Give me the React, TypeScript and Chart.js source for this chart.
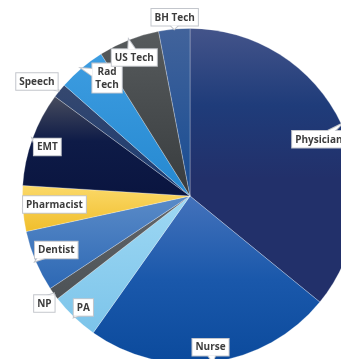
import React, { useEffect, useRef } from "react";
import { Chart, registerables } from "chart.js";

Chart.register(...registerables);

const categories = ["Physician", "Nurse", "PA", "NP", "Dentist", "Pharmacist", "EMT", "Speech", "Rad Tech", "US Tech", "BH Tech"];
const shares = [35.9, 23.9, 4.7, 1.2, 5.9, 4.4, 9.1, 1.4, 4.6, 5.9, 3.0];

// gradient colours per slice (top -> bottom of each slice)
const sliceStops: [number, string][][] = [
  [[0, "#44548a"], [0.28, "#1f3c7a"], [0.55, "#22306a"], [1, "#22306a"]],
  [[0, "#4472bb"], [0.5, "#1a58ab"], [1, "#0b4a9c"]],
  [[0, "#9ed8f3"], [1, "#7cc4ea"]],
  [[0, "#62676b"], [1, "#4d5256"]],
  [[0, "#5a8bc8"], [1, "#2d68b4"]],
  [[0, "#fbd969"], [1, "#f0be2c"]],
  [[0, "#474c5e"], [0.45, "#0e1b47"], [1, "#0a1540"]],
  [[0, "#36486f"], [1, "#1a3b72"]],
  [[0, "#3d9de1"], [1, "#2588d0"]],
  [[0, "#575b5d"], [1, "#383c3e"]],
  [[0, "#42639b"], [1, "#174c92"]],
];

// label placement: fraction of radius and angle tweak (degrees) from slice mid-angle
const labelRadius = [0.84, 0.91, 0.92, 1.08, 0.86, 0.81, 0.9, 1.14, 0.86, 0.89, 1.07];
const labelAngleTweak = [1.6, 0, 0, -0.8, 0.9, 0.75, -1, -2.1, 5.2, -0.5, 0.5];

function sliceGradient(chart: any, index: number) {
  const area = chart.chartArea;
  const stops = sliceStops[index];
  if (!area) return stops[stops.length - 1][1];
  const cx = (area.left + area.right) / 2;
  const cy = (area.top + area.bottom) / 2;
  const r = Math.min(area.right - area.left, area.bottom - area.top) / 2;
  const total = shares.reduce((a, b) => a + b, 0);
  let before = 0;
  for (let i = 0; i < index; i++) before += shares[i];
  const a0 = (before / total) * Math.PI * 2 - Math.PI / 2;
  const a1 = ((before + shares[index]) / total) * Math.PI * 2 - Math.PI / 2;
  const ys = [cy, cy + r * Math.sin(a0), cy + r * Math.sin(a1)];
  for (let k = -2; k <= 4; k++) {
    const t = -Math.PI / 2 + k * Math.PI;
    if (t > a0 && t < a1) ys.push(cy + r * Math.sin(t));
  }
  void cx;
  const top = Math.min(...ys);
  const bottom = Math.max(...ys);
  const g = chart.ctx.createLinearGradient(0, top, 0, bottom);
  stops.forEach(([p, c]) => g.addColorStop(p, c));
  return g;
}

const labelLines = categories.map((c) => (c === "Rad Tech" ? ["Rad", "Tech"] : [c]));

const calloutPlugin = {
  id: "callouts",
  afterDatasetsDraw(chart: any) {
    const ctx = chart.ctx;
    const meta = chart.getDatasetMeta(0);
    ctx.save();
    ctx.font = "bold 10px 'Open Sans', sans-serif";
    ctx.textAlign = "center";
    ctx.textBaseline = "middle";
    const lineH = 12.5;
    meta.data.forEach((arc: any, i: number) => {
      const p = arc.getProps(["startAngle", "endAngle", "x", "y", "outerRadius"], true);
      const mid = (p.startAngle + p.endAngle) / 2;
      const la = mid + (labelAngleTweak[i] * Math.PI) / 180;
      const lx = p.x + Math.cos(la) * p.outerRadius * labelRadius[i];
      const ly = p.y + Math.sin(la) * p.outerRadius * labelRadius[i];
      const lines = labelLines[i];
      const w = Math.max(...lines.map((l: string) => ctx.measureText(l).width)) + 6;
      const h = lines.length * lineH + 4;
      const bx = lx - w / 2;
      const by = ly - h / 2;
      const tx = p.x + Math.cos(mid) * p.outerRadius;
      const ty = p.y + Math.sin(mid) * p.outerRadius;
      let wedge: number[] | null = null;
      const inside = tx > bx && tx < bx + w && ty > by && ty < by + h;
      if (!inside) {
        const dx = tx - lx;
        const dy = ty - ly;
        const sx = dx !== 0 ? (w / 2) / Math.abs(dx) : Infinity;
        const sy = dy !== 0 ? (h / 2) / Math.abs(dy) : Infinity;
        const s = Math.min(sx, sy);
        const ex = lx + dx * s;
        const ey = ly + dy * s;
        if (sx < sy) {
          const y1 = Math.max(by + 1, Math.min(by + h - 1, ey - 3.5));
          const y2 = Math.max(by + 1, Math.min(by + h - 1, ey + 3.5));
          wedge = [ex, y1, ex, y2];
        } else {
          const x1 = Math.max(bx + 1, Math.min(bx + w - 1, ex - 3.5));
          const x2 = Math.max(bx + 1, Math.min(bx + w - 1, ex + 3.5));
          wedge = [x1, ey, x2, ey];
        }
      }
      const wedgePath = () => {
        ctx.beginPath();
        ctx.moveTo(wedge![0], wedge![1]);
        ctx.lineTo(tx, ty);
        ctx.lineTo(wedge![2], wedge![3]);
        ctx.closePath();
      };
      ctx.strokeStyle = "#c3c6cc";
      ctx.lineWidth = 2;
      ctx.beginPath();
      ctx.rect(bx, by, w, h);
      ctx.stroke();
      if (wedge) {
        wedgePath();
        ctx.stroke();
      }
      ctx.fillStyle = "#ffffff";
      ctx.beginPath();
      ctx.rect(bx, by, w, h);
      ctx.fill();
      if (wedge) {
        wedgePath();
        ctx.fill();
      }
      ctx.fillStyle = "#3d3d3d";
      lines.forEach((l: string, k: number) => {
        ctx.fillText(l, lx, by + 2 + lineH / 2 + k * lineH + 0.5);
      });
    });
    ctx.restore();
  },
};

export default function App() {
  const ref = useRef<HTMLCanvasElement | null>(null);
  useEffect(() => {
    document.body.style.overflow = "hidden";
    const canvas = ref.current;
    if (!canvas) return;
    const chart = new Chart(canvas, {
      type: "pie",
      data: {
        labels: categories,
        datasets: [
          {
            data: shares,
            backgroundColor: (c: any) => sliceGradient(c.chart, c.dataIndex),
            borderColor: "rgba(255,255,255,0.35)",
            borderWidth: 0.75,
          },
        ],
      },
      options: {
        responsive: false,
        animation: false,
        layout: { padding: { left: 22, top: 28, right: 22, bottom: 16 } },
        plugins: {
          legend: { display: false },
          tooltip: { enabled: false },
        },
      },
      plugins: [calloutPlugin],
    });
    return () => chart.destroy();
  }, []);
  return (
    <div style={{ position: "fixed", left: 0, top: 0, width: 341, height: 359, overflow: "hidden", background: "#fff" }}>
      <canvas ref={ref} width={380} height={380} style={{ position: "absolute", left: 0, top: 0, width: 380, height: 380 }} />
    </div>
  );
}
